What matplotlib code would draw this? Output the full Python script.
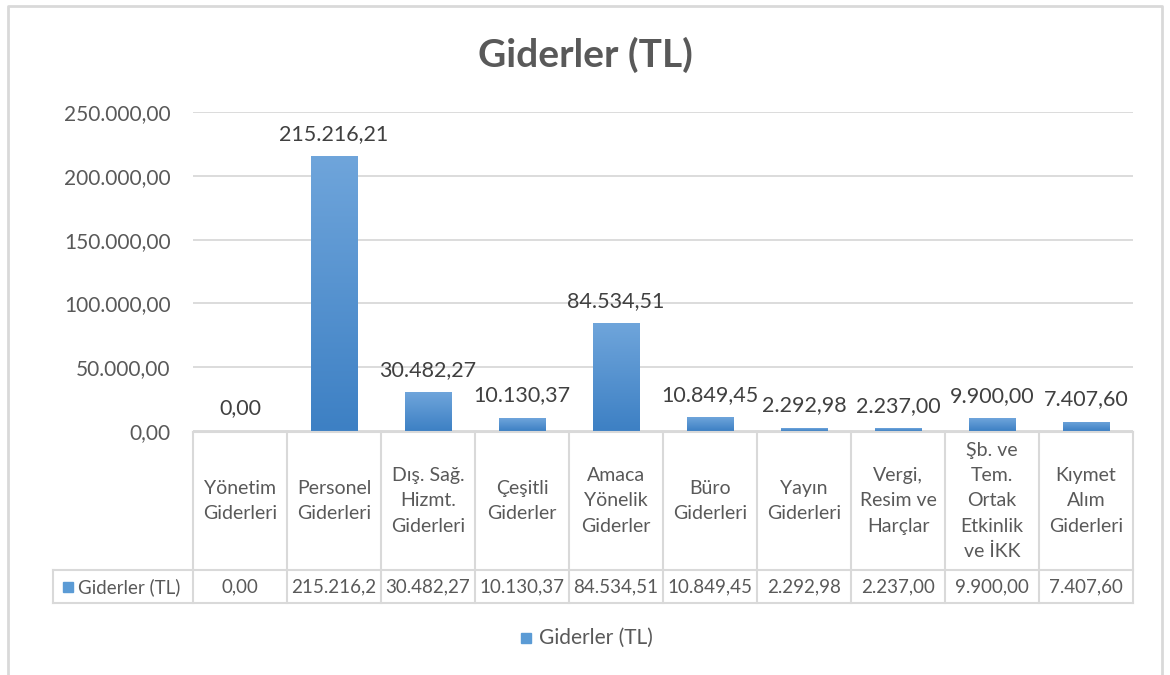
import matplotlib.pyplot as plt
import numpy as np
from matplotlib.lines import Line2D
from matplotlib.patches import Rectangle
from matplotlib.colors import LinearSegmentedColormap

plt.rcParams['font.family'] = ['Lato', 'DejaVu Sans']

categories = ["Yönetim\nGiderleri", "Personel\nGiderleri", "Dış. Sağ.\nHizmt.\nGiderleri",
              "Çeşitli\nGiderler", "Amaca\nYönelik\nGiderler", "Büro\nGiderleri",
              "Yayın\nGiderleri", "Vergi,\nResim ve\nHarçlar",
              "Şb. ve\nTem.\nOrtak\nEtkinlik\nve İKK", "Kıymet\nAlım\nGiderleri"]
values = [0.00, 215216.21, 30482.27, 10130.37, 84534.51, 10849.45,
          2292.98, 2237.00, 9900.00, 7407.60]
series_name = "Giderler (TL)"
title = "Giderler (TL)"
y_ticks = [0, 50000, 100000, 150000, 200000, 250000]


def tr(v):
    # turkish number format 1.234,56
    s = f"{v:,.2f}"
    return s.replace(",", "X").replace(".", ",").replace("X", ".")


W, H = 1170, 675
GRAY = '#595959'
LINE = '#d9d9d9'


def fx(px):
    return px / W


def fy(py):
    return 1 - py / H


fig = plt.figure(figsize=(W / 100, H / 100), dpi=100)

left, right, top, bottom = 193, 1133, 112, 431
ax = fig.add_axes([fx(left), fy(bottom), fx(right - left), (bottom - top) / H])

x = np.arange(len(values))
bars = ax.bar(x, values, width=0.49, color='#5b9bd5', zorder=2)

cmap = LinearSegmentedColormap.from_list('g', ['#3d80c4', '#6fa5db'])
grad = np.linspace(0, 1, 256).reshape(-1, 1)
for b in bars:
    if b.get_height() <= 0:
        continue
    im = ax.imshow(grad, extent=[b.get_x(), b.get_x() + b.get_width(), 0, b.get_height()],
                   origin='lower', cmap=cmap, aspect='auto', zorder=3)
    im.set_clip_path(b)

ax.set_xlim(-0.5, len(values) - 0.5)
ax.set_ylim(0, 250000)
ax.set_yticks(y_ticks)
ax.set_yticklabels([tr(t) for t in y_ticks])
ax.set_xticks([])
ax.tick_params(axis='y', length=0, pad=16, labelsize=15, labelcolor=GRAY)
ax.yaxis.grid(True, color=LINE, lw=1.3)
ax.set_axisbelow(True)
for s in ax.spines.values():
    s.set_visible(False)

for i, v in enumerate(values):
    ax.annotate(tr(v), (i, v), xytext=(0, 9), textcoords='offset points',
                ha='center', va='bottom', fontsize=15.5, color='#404040')

# title
fig.text(fx(585), fy(55), title, fontsize=28, weight='bold', color=GRAY,
         ha='center', va='center')

# data table
col_w = (right - left) / len(values)
row_top, row_mid, row_bot = 432, 570, 603
lab_left = 53


def hline(x0, x1, y):
    fig.add_artist(Line2D([fx(x0), fx(x1)], [fy(y), fy(y)], color=LINE, lw=1.5))


def vline(xp, y0, y1):
    fig.add_artist(Line2D([fx(xp), fx(xp)], [fy(y0), fy(y1)], color=LINE, lw=1.5))


hline(left, right, row_top)
hline(lab_left, right, row_mid)
hline(lab_left, right, row_bot)
vline(lab_left, row_mid, row_bot)
for i in range(len(values) + 1):
    vline(left + i * col_w, row_top, row_bot)

for i, (c, v) in enumerate(zip(categories, values)):
    cx = left + (i + 0.5) * col_w
    fig.text(fx(cx), fy((row_top + row_mid) / 2), c, ha='center', va='center',
             fontsize=14, color=GRAY, linespacing=1.6)
    s = tr(v)
    if len(s) > 9:
        s = s[:9]
    fig.text(fx(cx), fy((row_mid + row_bot) / 2), s, ha='center', va='center',
             fontsize=13.5, color=GRAY)

fig.add_artist(Rectangle((fx(63), fy(592)), fx(10), 10 / H, color='#5b9bd5'))
fig.text(fx(78), fy(587), series_name, ha='left', va='center', fontsize=13.5, color=GRAY)

# legend
fig.add_artist(Rectangle((fx(521), fy(643)), fx(10), 10 / H, color='#5b9bd5'))
fig.text(fx(539), fy(638), series_name, ha='left', va='center', fontsize=15, color=GRAY)

# outer border
fig.add_artist(Line2D([fx(8), fx(8), fx(1162), fx(1162)], [0, fy(6), fy(6), 0],
                      color=LINE, lw=2))

fig.savefig('out.png', dpi=100)
